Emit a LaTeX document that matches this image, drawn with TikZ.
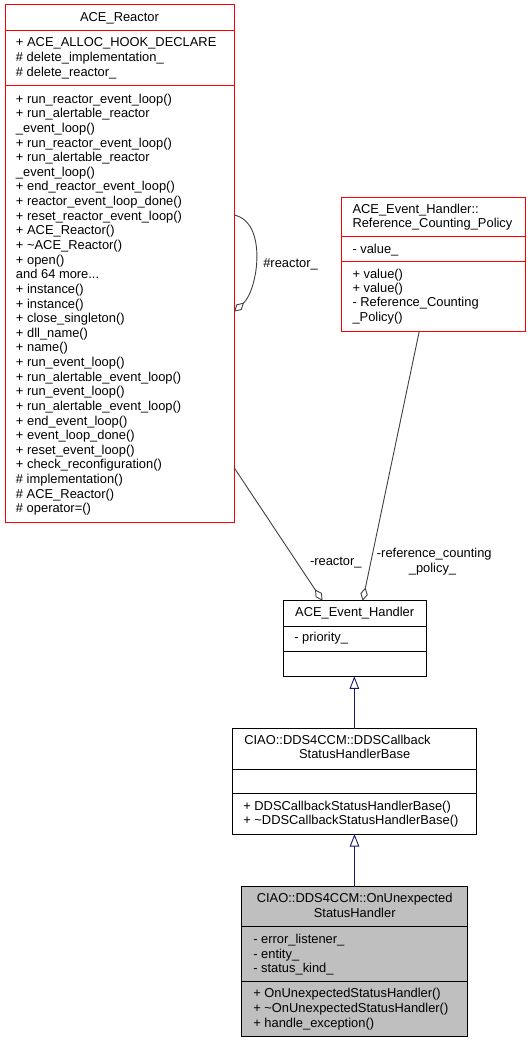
\documentclass[tikz,border=0pt]{standalone}
\usepackage{fontspec}
\setmainfont{Liberation Sans}
\usetikzlibrary{arrows.meta}
\definecolor{edgegrey}{HTML}{404040}
\definecolor{inhblue}{HTML}{191970}
\definecolor{focusgrey}{HTML}{BFBFBF}
\definecolor{trunc}{HTML}{FF0000}
\newcommand{\morelbl}{and 64 more.\kern0pt.\kern0pt.}
\begin{document}
\begin{tikzpicture}[x=1pt,y=-1pt,
 cls/.style={draw, line width=1pt, anchor=north west, inner sep=0, outer sep=0},
 sepline/.style={line width=1pt},
 txt/.style={inner sep=0, outer sep=0, font=\fontsize{12.9}{14.6}\selectfont, anchor=base west},
 ctxt/.style={txt, anchor=base},
 edge/.style={draw=edgegrey, line width=0.9pt},
 agg/.style={edge, -{Diamond[open, length=13.5pt, width=7.5pt]}},
 inh/.style={draw=inhblue, line width=0.9pt, -{Triangle[open, length=12.5pt, width=9.5pt]}}]
\useasboundingbox (0,0) rectangle (531,1043);

% ---------- ACE_Reactor ----------
\node[cls, draw=trunc, minimum width=229, minimum height=517] (reactor) at (5,5) {};
\draw[sepline, trunc] (reactor.west |- 0,31) -- (reactor.east |- 0,31);
\draw[sepline, trunc] (reactor.west |- 0,86) -- (reactor.east |- 0,86);
\node[ctxt] (rtitle) at (119.5,21.8) {ACE\_Reactor};
\foreach \lbl [count=\i from 0] in {+ ACE\_ALLOC\_HOOK\_DECLARE, \# delete\_implementation\_, \# delete\_reactor\_}
  \node[txt] (ra\i) at (16,46.8+\i*14.63) {\lbl};
\foreach \lbl [count=\i from 0] in {
 + run\_reactor\_event\_loop(),
 + run\_alertable\_reactor,
 \_event\_loop(),
 + run\_reactor\_event\_loop(),
 + run\_alertable\_reactor,
 \_event\_loop(),
 + end\_reactor\_event\_loop(),
 + reactor\_event\_loop\_done(),
 + reset\_reactor\_event\_loop(),
 + ACE\_Reactor(),
 + \textasciitilde ACE\_Reactor(),
 + open(),
 \morelbl,
 + instance(),
 + instance(),
 + close\_singleton(),
 + dll\_name(),
 + name(),
 + run\_event\_loop(),
 + run\_alertable\_event\_loop(),
 + run\_event\_loop(),
 + run\_alertable\_event\_loop(),
 + end\_event\_loop(),
 + event\_loop\_done(),
 + reset\_event\_loop(),
 + check\_reconfiguration(),
 \# implementation(),
 \# ACE\_Reactor(),
 \# operator=()}
  \node[txt] (rm\i) at (16,103.2+\i*14.63) {\lbl};

% ---------- Reference_Counting_Policy ----------
\node[cls, draw=trunc, minimum width=184.3, minimum height=134] (ref) at (341,197) {};
\draw[sepline, trunc] (ref.west |- 0,236.7) -- (ref.east |- 0,236.7);
\draw[sepline, trunc] (ref.west |- 0,261.7) -- (ref.east |- 0,261.7);
\node[txt] (reft1) at (352.5,213.5) {ACE\_Event\_Handler::};
\node[txt] (reft2) at (352.5,227.5) {Reference\_Counting\_Policy};
\node[txt] (refa) at (352.5,253.5) {- value\_};
\foreach \lbl [count=\i from 0] in {+ value(), + value(), - Reference\_Counting, \_Policy()}
  \node[txt] (refm\i) at (352.5,278.5+\i*14.2) {\lbl};

% ---------- ACE_Event_Handler ----------
\node[cls, minimum width=142.7, minimum height=75.6] (eh) at (283.3,600.7) {};
\draw[sepline] (eh.west |- 0,626.7) -- (eh.east |- 0,626.7);
\draw[sepline] (eh.west |- 0,651.3) -- (eh.east |- 0,651.3);
\node[ctxt] (eht) at (354.7,616.5) {ACE\_Event\_Handler};
\node[txt] (eha) at (294.3,641.8) {- priority\_};

% ---------- DDSCallbackStatusHandlerBase ----------
\node[cls, minimum width=243.3, minimum height=105.3] (ddscb) at (232.7,728.7) {};
\draw[sepline] (ddscb.west |- 0,769) -- (ddscb.east |- 0,769);
\draw[sepline] (ddscb.west |- 0,793.7) -- (ddscb.east |- 0,793.7);
\node[txt] (ddt1) at (244.3,744.5) {CIAO::DDS4CCM::DDSCallback};
\node[ctxt] (ddt2) at (354.7,758.5) {StatusHandlerBase};
\node[txt] (ddm0) at (243.3,810.2) {+ DDSCallbackStatusHandlerBase()};
\node[txt] (ddm1) at (243.3,824.5) {+ \textasciitilde DDSCallbackStatusHandlerBase()};

% ---------- OnUnexpectedStatusHandler ----------
\node[cls, fill=focusgrey, minimum width=225.6, minimum height=149.3] (onu) at (241.7,886.7) {};
\draw[sepline] (onu.west |- 0,926) -- (onu.east |- 0,926);
\draw[sepline] (onu.west |- 0,981) -- (onu.east |- 0,981);
\node[ctxt] (onut1) at (354.7,902.8) {CIAO::DDS4CCM::OnUnexpected};
\node[ctxt] (onut2) at (354.7,917.2) {StatusHandler};
\foreach \lbl [count=\i from 0] in {- error\_listener\_, - entity\_, - status\_kind\_}
  \node[txt] (onua\i) at (253.3,943.8+\i*14.5) {\lbl};
\foreach \lbl [count=\i from 0] in {+ OnUnexpectedStatusHandler(), + \textasciitilde OnUnexpectedStatusHandler(), + handle\_exception()}
  \node[txt] (onum\i) at (253.3,997.2+\i*14.9) {\lbl};

% ---------- connectors ----------
\coordinate (loopstart) at (reactor.east |- 0,215);
\coordinate (loopend) at (reactor.east |- 0,311.7);
\draw[agg] (loopstart) .. controls (268,222) and (258,290) .. (loopend);
\node[txt] (lreactor) at (263.3,267) {\#reactor\_};

\draw[agg] (reactor.east |- 0,467.5) -- (322.5,0 |- eh.north);
\node[txt] (lreactor2) at (310,565.8) {-reactor\_};

\draw[agg] (419.3,0 |- ref.south) -- (362.7,0 |- eh.north);
\node[ctxt] (lref1) at (434.3,557.8) {-reference\_counting};
\node[ctxt] (lref2) at (432.5,572.8) {\_policy\_};

\draw[inh] (ddscb.north) -- (ddscb.north |- eh.south);
\draw[inh] (onu.north) -- (onu.north |- ddscb.south);
\end{tikzpicture}
\end{document}
